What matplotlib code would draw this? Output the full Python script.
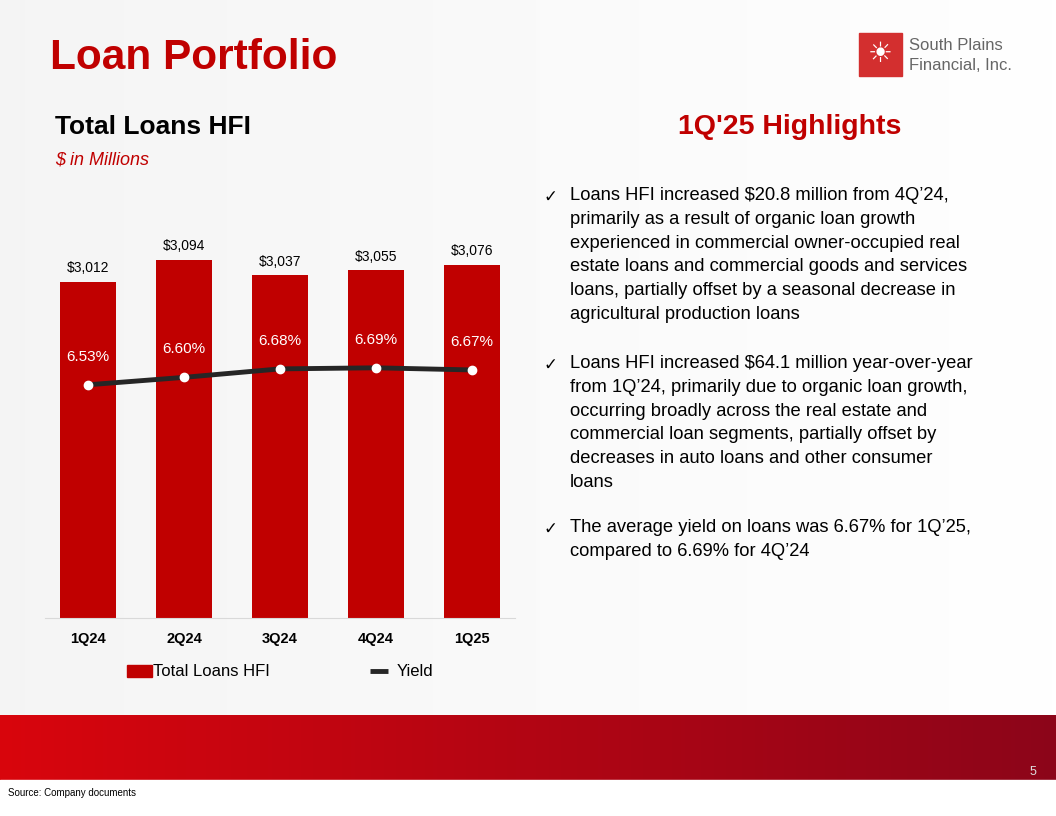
import matplotlib
matplotlib.use("Agg")
import matplotlib.pyplot as plt
import numpy as np
from matplotlib.lines import Line2D
from matplotlib.patches import Patch

quarters = ["1Q24", "2Q24", "3Q24", "4Q24", "1Q25"]
loans = [3012, 3094, 3037, 3055, 3076]
yields = [6.53, 6.60, 6.68, 6.69, 6.67]

bullets = [
    "Loans HFI increased $20.8 million from 4Q\u201924,\nprimarily as a result of organic loan growth\nexperienced in commercial owner-occupied real\nestate loans and commercial goods and services\nloans, partially offset by a seasonal decrease in\nagricultural production loans",
    "Loans HFI increased $64.1 million year-over-year\nfrom 1Q\u201924, primarily due to organic loan growth,\noccurring broadly across the real estate and\ncommercial loan segments, partially offset by\ndecreases in auto loans and other consumer\nloans",
    "The average yield on loans was 6.67% for 1Q\u201925,\ncompared to 6.69% for 4Q\u201924",
]

RED = "#c00000"
W, H = 1056, 816
fig = plt.figure(figsize=(W / 100, H / 100), dpi=100)
plt.rcParams["font.family"] = ["Liberation Sans", "DejaVu Sans"]

# background
bg = fig.add_axes([0, 0, 1, 1])
bg.set_xlim(0, W); bg.set_ylim(H, 0); bg.axis("off")
g = np.linspace(0, 1, 256)[None, :]
bg.imshow(np.dstack([0.96 + 0.04 * g, 0.96 + 0.04 * g, 0.96 + 0.04 * g]),
          extent=[0, W, 715, 0], aspect="auto")
band = np.linspace(0, 1, 256)[None, :]
cols = np.dstack([0.85 - 0.3 * band, 0.02 + 0 * band, 0.05 + 0.05 * band])
bg.imshow(cols, extent=[0, W, 780, 715], aspect="auto")
bg.add_patch(plt.Rectangle((0, 780), W, 36, color="white"))
bg.set_xlim(0, W); bg.set_ylim(H, 0)

bg.text(50, 58, "Loan Portfolio", color=RED, fontsize=30.5, fontweight="bold", va="center")
bg.text(55, 127, "Total Loans HFI", fontsize=19, fontweight="bold", va="center")
bg.text(55, 160, "$ in Millions", color=RED, fontsize=13, style="italic", va="center")
bg.text(790, 127, "1Q'25 Highlights", color=RED, fontsize=20.5, fontweight="bold", va="center", ha="center")
bg.add_patch(plt.Rectangle((859, 33), 43, 43, color="#d32f2f"))
bg.text(880, 55, "\u2600", color="white", fontsize=20, ha="center", va="center")
bg.text(909, 46, "South Plains", color="#666666", fontsize=12, va="center")
bg.text(909, 65, "Financial, Inc.", color="#666666", fontsize=12, va="center")
bg.text(8, 793, "Source: Company documents", fontsize=7, va="center")
bg.text(1030, 772, "5", color="#dddddd", fontsize=9, va="center")

ys = [190, 358, 522]
for y, b in zip(ys, bullets):
    bg.text(543, y, "\u2713", fontsize=12, va="top")
    bg.text(570, y - 3, b, fontsize=13.2, va="top", linespacing=1.52)

# chart
ax = fig.add_axes([45 / W, 1 - 618 / H, 470 / W, 388 / H])
x = np.arange(len(quarters))
ax.bar(x, loans, width=0.58, color=RED)
ax.set_ylim(1758, 3206)
ax.set_xlim(-0.45, 4.45)
for xi, v in zip(x, loans):
    ax.text(xi, v + 25, f"${v:,}", ha="center", va="bottom", fontsize=10)
ax.set_xticks(x)
ax.set_xticklabels(quarters, fontsize=10.5, fontweight="bold")
ax.tick_params(axis="x", length=0, pad=10)
ax.set_yticks([])
for s in ["top", "left", "right"]:
    ax.spines[s].set_visible(False)
ax.spines["bottom"].set_color("#d9d9d9")
ax.patch.set_alpha(0)

ax2 = ax.twinx()
ax2.plot(x, yields, color="#262626", lw=3.5, marker="o", ms=6,
         mfc="white", mec="white", zorder=3)
ax2.set_ylim(4.33, 7.99)
ax2.axis("off")
for xi, v in zip(x, yields):
    ax2.text(xi, v + 0.2, f"{v:.2f}%", ha="center", va="bottom", color="white", fontsize=11)

handles = [Patch(color=RED), Line2D([], [], color="#262626", lw=3.5, ls="--")]
fig.legend(handles, ["Total Loans HFI", "Yield"], loc="center",
           bbox_to_anchor=(280 / W, 1 - 672 / H), ncol=2, frameon=False,
           fontsize=12, columnspacing=6, handlelength=1.5, handletextpad=0.1)

fig.savefig("out.png", dpi=100)
